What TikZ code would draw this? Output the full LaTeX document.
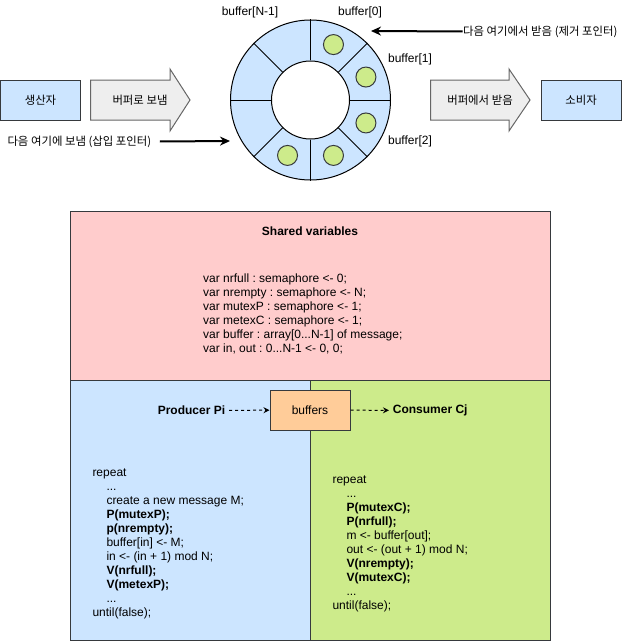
\documentclass[tikz,border=0pt]{standalone}
\usepackage{fontspec}
\setmainfont{Liberation Sans}
\newfontfamily\kr{Noto Sans CJK KR}[Scale=0.95]
\usetikzlibrary{arrows.meta}
\definecolor{bluefill}{HTML}{CCE5FF}
\definecolor{greenfill}{HTML}{CDEB8B}
\definecolor{pinkfill}{HTML}{FFCCCC}
\definecolor{orangefill}{HTML}{FFCC99}
\definecolor{greyfill}{HTML}{EEEEEE}
\definecolor{strokegrey}{HTML}{36393D}
\definecolor{arrowgrey}{HTML}{666666}
\frenchspacing

\begin{document}
\begin{tikzpicture}[x=1pt, y=-1pt, line width=1pt,
        every node/.append style={font=\fontsize{12}{14}\selectfont},
        greendot/.style={circle, draw=strokegrey, fill=greenfill, minimum size=20pt, inner sep=0pt},
        pointer/.style={line width=2pt, -{Stealth[length=10pt, width=9pt]}},
        dashedarrow/.style={dash pattern=on 3pt off 3pt, -{Stealth[length=6pt, width=6pt]}}]

        \useasboundingbox (0,0) rectangle (622,642);

        \node[draw=strokegrey, fill=bluefill, rectangle, minimum width=80pt, minimum height=40pt] (a) at (40.5,100) {\kr 생산자};
        \filldraw[draw=arrowgrey, fill=greyfill] (90.7,80) -- (170,80) -- (170,69) -- (190,100) -- (170,131) -- (170,120) -- (90.7,120) -- cycle;
        \node (b) at (140,100) {\kr 버퍼로 보냄};

        \node[draw, circle, fill=bluefill, minimum size=160pt, inner sep=0pt] (r) at (310.5,100) {};
        \node[draw, circle, fill=white, minimum size=78pt, inner sep=0pt] (h) at (r.center) {};
        \foreach \a in {0,45,...,315}
            \path[draw] (h.\a) -- (r.\a);
        \foreach \a [count=\i] in {67.5,22.5,-22.5,-67.5,-112.5}
            \node[greendot] (d\i) at ([shift={(\a:60pt)}]r.center) {};

        \node (e) at (250,12) {buffer[N-1]};
        \node (f) at (360,12) {buffer[0]};
        \node (g) at (410,59) {buffer[1]};
        \node (k) at (410,141) {buffer[2]};

        \coordinate (p) at (371,31);
        \node[anchor=west, inner sep=0pt] (m) at (462.7,31.5) {\kr 다음 여기에서 받음 (제거 포인터)};
        \path[draw, pointer] (m.west) -- (p);
        \coordinate (q) at (230,141);
        \node[anchor=west, inner sep=0pt] (n) at (7,141.5) {\kr 다음 여기에 보냄 (삽입 포인터)};
        \path[draw, pointer] ([xshift=8pt]n.east) -- (q);

        \filldraw[draw=arrowgrey, fill=greyfill] (430.7,80) -- (509,80) -- (509,69) -- (530,100) -- (509,131) -- (509,120) -- (430.7,120) -- cycle;
        \node (c) at (480,100) {\kr 버퍼에서 받음};
        \node[draw=strokegrey, fill=bluefill, rectangle, minimum width=80pt, minimum height=40pt] (l) at (581,100) {\kr 소비자};

        \node[draw=strokegrey, fill=pinkfill, rectangle, minimum width=479.5pt, minimum height=169pt] (s) at (310.25,295.5) {};
        \node (t) at (310,231) {\textbf{Shared variables}};
        \node[anchor=north west, align=left, inner sep=0pt] (u) at (202.7,273)
        {
            var nrfull : semaphore <- 0;\\
            var nrempty : semaphore <- N;\\
            var mutexP : semaphore <- 1;\\
            var metexC : semaphore <- 1;\\
            var buffer : array[0...N-1] of message;\\
            var in, out : 0...N-1 <- 0, 0;
        };

        \node[draw=strokegrey, fill=bluefill, rectangle, minimum width=239.5pt, minimum height=260pt] (i) at (190.25,510) {};
        \node[draw=strokegrey, fill=greenfill, rectangle, minimum width=240pt, minimum height=260pt] (j) at (430,510) {};

        \node[draw=strokegrey, fill=orangefill, rectangle, minimum width=80pt, minimum height=40pt] (o) at (310,410) {buffers};
        \node[anchor=east] (v) at (229,410.5) {\textbf{Producer Pi}};
        \path[draw, dashedarrow] (v) -- (o);
        \node[anchor=west] (w) at (389,410.5) {\textbf{Consumer Cj}};
        \path[draw, dashedarrow] (o) -- (w);

        \node[anchor=north west, align=left, inner sep=0pt] (x) at (92,468)
        {
            repeat\\
            \hspace*{14pt}...\\
            \hspace*{14pt}create a new message M;\\
            \hspace*{14pt}\textbf{P(mutexP);}\\
            \hspace*{14pt}\textbf{p(nrempty);}\\
            \hspace*{14pt}buffer[in] <- M;\\
            \hspace*{14pt}in <- (in + 1) mod N;\\
            \hspace*{14pt}\textbf{V(nrfull);}\\
            \hspace*{14pt}\textbf{V(metexP);}\\
            \hspace*{14pt}...\\
            until(false);
        };
        \node[anchor=north west, align=left, inner sep=0pt] (y) at (332,475)
        {
            repeat\\
            \hspace*{14pt}...\\
            \hspace*{14pt}\textbf{P(mutexC);}\\
            \hspace*{14pt}\textbf{P(nrfull);}\\
            \hspace*{14pt}m <- buffer[out];\\
            \hspace*{14pt}out <- (out + 1) mod N;\\
            \hspace*{14pt}\textbf{V(nrempty);}\\
            \hspace*{14pt}\textbf{V(mutexC);}\\
            \hspace*{14pt}...\\
            until(false);
        };
    \end{tikzpicture}
\end{document}
